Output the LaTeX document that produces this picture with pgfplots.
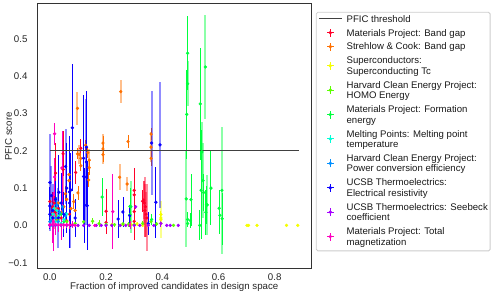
\documentclass[border=0pt]{standalone}
\usepackage{fontspec}
\setmainfont{Liberation Sans}
\usepackage{pgfplots}
\pgfplotsset{compat=1.18}
\definecolor{c1}{rgb}{1,0,0.16}
\definecolor{c2}{rgb}{1,0.44,0}
\definecolor{c3}{rgb}{0.96,1,0}
\definecolor{c4}{rgb}{0.36,1,0}
\definecolor{c5}{rgb}{0,1,0.24}
\definecolor{c6}{rgb}{0,1,0.84}
\definecolor{c7}{rgb}{0,0.56,1}
\definecolor{c8}{rgb}{0.04,0,1}
\definecolor{c9}{rgb}{0.65,0,1}
\definecolor{c10}{rgb}{1,0,0.75}
\newcommand{\LF}{\fontsize{9.6}{10.5}\selectfont}
\newcommand{\LA}[1]{\LF\hspace*{4.5pt}\rule[-3.15pt]{0pt}{13.9pt}#1}
\newcommand{\LC}[1]{\LF\hspace*{4.5pt}\rule[-3.15pt]{0pt}{10.5pt}#1}
\pgfplotsset{
 eb/.style 2 args={only marks, mark=*, mark size=1.45pt, color=#1, mark options={draw=#1, fill=#1},
   /pgfplots/legend image code/.code={\path (0pt,0pt) (22.7pt,0pt); \draw[overlay, draw=#1, line width=0.9pt] (11.3pt,#2-4pt)--(11.3pt,#2+4pt) (8pt,#2)--(14.6pt,#2); \fill[overlay, #1] (11.3pt,#2) circle (1.3pt);},
   error bars/.cd, y dir=both, y explicit, error mark=none, error bar style={line width=0.9pt, color=#1}},
 ef/.style={only marks, mark=*, mark size=1.45pt, color=#1, mark options={draw=#1, fill=#1}, forget plot,
   error bars/.cd, y dir=both, y explicit, error mark=none, error bar style={line width=2pt, color=#1, opacity=0.45}},
 threshleg/.style={legend image code/.code={\path (0pt,0pt) (22.7pt,0pt); \draw[overlay, black!75, line width=1.1pt] (0pt,1.3pt)--(22.7pt,1.3pt);}},
}
\begin{document}
\begin{tikzpicture}
\begin{axis}[scale only axis, width=273.5pt, height=265pt,
  xmin=-0.044, xmax=0.929, ymin=-0.117, ymax=0.594,
  xtick={0,0.2,0.4,0.6,0.8}, xticklabels={0.0,0.2,0.4,0.6,0.8},
  ytick={-0.1,0,0.1,0.2,0.3,0.4,0.5}, yticklabels={−0.1,0.0,0.1,0.2,0.3,0.4,0.5},
  major tick length=0,
  axis line style={black!80, line width=1pt},
  tick label style={font=\fontsize{9.7}{10.5}\selectfont, text=black!85},
  yticklabel style={xshift=-6.5pt},
  xticklabel style={yshift=-1.5pt},
  label style={font=\fontsize{9.7}{10.5}\selectfont, text=black!85},
  xlabel={Fraction of improved candidates in design space},
  ylabel={PFIC score},
  xlabel style={at={(axis description cs:0.5,-0.069)}, anchor=center},
  ylabel style={at={(axis description cs:-0.106,0.5)}, anchor=center},
  legend style={at={(axis description cs:1.018,0.97)}, anchor=north west, draw=black!20, rounded corners=1.5pt, line width=0.8pt, fill=white,
    inner xsep=2.3pt, inner ysep=2.5pt, row sep=0pt, column sep=0pt,
    font=\LF, text=black!90,
    cells={anchor=west, inner xsep=0pt, inner ysep=0pt, text depth=3.15pt},
    nodes={inner sep=0pt, text depth=3.15pt}},
]
\coordinate (BL) at (rel axis cs:0,0);
\coordinate (TR) at (rel axis cs:1,1);
\addlegendimage{threshleg}
\addlegendentry{\LC{PFIC threshold}}
% 1 Materials Project: Band gap
\addplot[ef=c1] table[y error index=2, row sep=\\] {x y e\\
0.336 0.060 0.060\\ 0.340 0.050 0.080\\ 0.338 0.040 0.070\\ 0.342 0.030 0.060\\ 0.345 0.020 0.090\\ 0.334 0.068 0.050\\ 0.015 0.040 0.050\\ 0.047 0.150 0.080\\};
\addplot[eb={c1}{-0.4pt}] table[y error index=2, row sep=\\] {x y e\\
0.047 0.192 0.060\\ 0.020 0.140 0.080\\ 0.092 0.142 0.030\\ 0.110 0.207 0.025\\ 0.000 0.064 0.030\\ 0.010 0.050 0.040\\ 0.020 0.035 0.030\\ 0.030 0.045 0.020\\ 0.040 0.020 0.030\\ 0.005 0.030 0.020\\ 0.060 0.012 0.020\\ 0.200 0.038 0.060\\ 0.200 0.008 0.030\\ 0.300 0.094 0.060\\ 0.300 0.082 0.050\\ 0.300 0.037 0.060\\ 0.300 0.011 0.050\\ 0.330 0.065 0.030\\ 0.015 0.060 0.030\\ 0.070 0.030 0.020\\};
\addlegendentry{\LA{Materials Project: Band gap}}
% 2 Strehlow & Cook
\addplot[ef=c2] table[y error index=2, row sep=\\] {x y e\\
0.098 0.314 0.045\\ 0.252 0.359 0.030\\ 0.189 0.205 0.040\\ 0.248 0.129 0.035\\ 0.275 0.111 0.020\\ 0.140 0.175 0.030\\ 0.360 0.210 0.040\\ 0.105 0.190 0.025\\};
\addplot[eb={c2}{-0.4pt}] table[y error index=2, row sep=\\] {x y e\\
0.189 0.221 0.020\\ 0.189 0.190 0.020\\ 0.278 0.225 0.018\\ 0.360 0.245 0.015\\ 0.360 0.180 0.020\\ 0.127 0.215 0.015\\ 0.098 0.192 0.015\\ 0.135 0.195 0.015\\ 0.140 0.155 0.020\\ 0.110 0.180 0.015\\ 0.110 0.160 0.015\\ 0.100 0.087 0.020\\ 0.085 0.064 0.020\\ 0.068 0.136 0.025\\ 0.068 0.120 0.020\\ 0.138 0.122 0.020\\ 0.060 0.070 0.015\\ 0.050 0.050 0.020\\ 0.040 0.035 0.015\\ 0.030 0.060 0.020\\ 0.020 0.045 0.020\\ 0.010 0.030 0.015\\ 0.075 0.045 0.015\\ 0.090 0.040 0.015\\ 0.055 0.085 0.020\\ 0.025 0.020 0.010\\};
\addlegendentry{\LA{Strehlow \& Cook: Band gap}}
% 3 Superconductors
\addplot[ef=c3] table[y error index=2, row sep=\\] {x y e\\ 0.395 0.015 0.050\\};
\addplot[eb={c3}{-5.65pt}] table[y error index=2, row sep=\\] {x y e\\
0.701 0.000 0.002\\ 0.707 0.000 0.002\\ 0.737 0.000 0.002\\ 0.842 0.000 0.002\\ 0.882 0.000 0.002\\ 0.395 0.029 0.010\\ 0.395 0.020 0.010\\ 0.395 0.006 0.010\\ 0.290 0.002 0.004\\ 0.310 0.004 0.006\\ 0.330 0.000 0.003\\ 0.350 0.001 0.003\\ 0.260 0.003 0.004\\ 0.220 0.002 0.003\\};
\addlegendentry{\LA{Superconductors:}}
\addlegendimage{empty legend}\addlegendentry{\LC{Superconducting Tc}}
% 4 HOMO
\addplot[eb={c4}{-5.65pt}] table[y error index=2, row sep=\\] {x y e\\
0.152 0.011 0.008\\ 0.175 0.005 0.010\\ 0.200 0.003 0.005\\ 0.230 0.002 0.005\\ 0.260 0.004 0.005\\ 0.280 0.003 0.006\\ 0.300 0.002 0.004\\ 0.330 0.005 0.008\\ 0.360 0.010 0.010\\ 0.380 0.004 0.005\\ 0.060 0.010 0.010\\ 0.090 0.005 0.008\\ 0.120 0.010 0.010\\ 0.250 0.000 0.004\\ 0.440 0.000 0.003\\ 0.030 0.015 0.010\\};
\addlegendentry{\LA{Harvard Clean Energy Project:}}
\addlegendimage{empty legend}\addlegendentry{\LC{HOMO Energy}}
% 5 Formation energy
\addplot[ef=c5] table[y error index=2, row sep=\\] {x y e\\
0.553 0.425 0.140\\ 0.485 0.071 0.130\\ 0.540 0.198 0.080\\ 0.612 0.094 0.170\\ 0.545 0.120 0.100\\ 0.288 0.050 0.070\\ 0.560 0.055 0.080\\ 0.490 0.380 0.060\\};
\addplot[eb={c5}{-5.65pt}] table[y error index=2, row sep=\\] {x y e\\
0.490 0.462 0.100\\ 0.487 0.298 0.120\\ 0.535 0.326 0.150\\ 0.538 0.094 0.130\\ 0.547 0.088 0.050\\ 0.533 0.000 0.040\\ 0.490 0.016 0.020\\ 0.500 0.013 0.020\\ 0.490 0.005 0.010\\ 0.502 0.069 0.070\\ 0.573 0.100 0.100\\ 0.557 0.055 0.050\\ 0.555 0.035 0.060\\ 0.602 0.046 0.050\\ 0.605 0.027 0.050\\ 0.613 0.018 0.070\\ 0.186 0.076 0.050\\ 0.285 0.051 0.050\\ 0.285 0.029 0.040\\ 0.362 0.016 0.015\\ 0.020 0.020 0.020\\ 0.040 0.030 0.015\\ 0.050 0.010 0.010\\ 0.540 0.196 0.060\\};
\addlegendentry{\LA{Materials Project: Formation}}
\addlegendimage{empty legend}\addlegendentry{\LC{energy}}
% 6 Melting points
\addplot[eb={c6}{-5.65pt}] table[y error index=2, row sep=\\] {x y e\\
0.005 0.020 0.010\\ 0.010 0.030 0.015\\ 0.020 0.010 0.010\\ 0.030 0.025 0.010\\ 0.040 0.005 0.010\\ 0.015 0.045 0.020\\ 0.050 0.015 0.010\\ 0.008 0.000 0.005\\ 0.060 0.030 0.015\\ 0.025 0.040 0.010\\};
\addlegendentry{\LA{Melting Points: Melting point}}
\addlegendimage{empty legend}\addlegendentry{\LC{temperature}}
% 7 PCE
\addplot[eb={c7}{-5.65pt}] table[y error index=2, row sep=\\] {x y e\\
0.010 0.040 0.020\\ 0.020 0.020 0.015\\ 0.025 0.055 0.020\\ 0.035 0.035 0.015\\ 0.045 0.050 0.020\\ 0.030 0.010 0.010\\ 0.000 0.010 0.010\\ 0.055 0.025 0.010\\};
\addlegendentry{\LA{Harvard Clean Energy Project:}}
\addlegendimage{empty legend}\addlegendentry{\LC{Power conversion efficiency}}
% 8 Electrical resistivity
\addplot[ef=c8] table[y error index=2, row sep=\\] {x y e\\
0.000 0.115 0.130\\ 0.362 0.221 0.140\\ 0.392 0.216 0.170\\ 0.056 0.158 0.100\\ 0.130 0.170 0.170\\ 0.010 0.040 0.070\\ 0.030 0.020 0.080\\ 0.070 0.060 0.120\\ 0.005 0.080 0.080\\};
\addplot[eb={c8}{-5.65pt}] table[y error index=2, row sep=\\] {x y e\\
0.080 0.262 0.170\\ 0.120 0.180 0.170\\ 0.120 0.131 0.120\\ 0.124 0.054 0.100\\ 0.130 0.130 0.080\\ 0.133 0.053 0.120\\ 0.032 0.089 0.100\\ 0.000 0.052 0.050\\ 0.000 0.030 0.040\\ 0.010 0.020 0.030\\ 0.040 0.060 0.080\\ 0.060 0.100 0.120\\ 0.070 0.090 0.150\\ 0.075 0.095 0.100\\ 0.050 0.030 0.060\\ 0.090 0.020 0.050\\ 0.243 0.017 0.050\\ 0.260 0.036 0.040\\ 0.284 0.026 0.030\\ 0.350 0.005 0.030\\ 0.377 0.062 0.095\\ 0.020 0.070 0.050\\ 0.130 0.210 0.150\\};
\addlegendentry{\LA{UCSB Thermoelectrics:}}
\addlegendimage{empty legend}\addlegendentry{\LC{Electrical resistivity}}
% 9 Seebeck
\addplot[eb={c9}{-5.65pt}] table[y error index=2, row sep=\\] {x y e\\
0.000 0.000 0.003\\ 0.010 0.000 0.003\\ 0.020 0.000 0.003\\ 0.040 0.000 0.003\\ 0.060 0.000 0.003\\ 0.080 0.000 0.003\\ 0.100 0.000 0.003\\ 0.120 0.000 0.003\\ 0.140 0.000 0.003\\ 0.165 0.000 0.003\\ 0.183 0.000 0.003\\ 0.200 0.000 0.003\\ 0.220 0.000 0.003\\ 0.250 0.000 0.003\\ 0.270 0.000 0.003\\ 0.300 0.000 0.003\\ 0.320 0.000 0.003\\ 0.350 0.000 0.003\\ 0.370 0.000 0.003\\ 0.395 0.005 0.010\\ 0.416 0.000 0.003\\ 0.428 0.000 0.003\\ 0.457 0.000 0.003\\ 0.305 0.050 0.006\\};
\addlegendentry{\LA{UCSB Thermoelectrics: Seebeck}}
\addlegendimage{empty legend}\addlegendentry{\LC{coefficient}}
% 10 Total magnetization
\addplot[eb={c10}{-5.65pt}] table[y error index=2, row sep=\\] {x y e\\
0.017 0.246 0.030\\ 0.043 0.154 0.100\\ 0.224 0.037 0.100\\ 0.000 0.002 0.010\\ 0.010 0.002 0.050\\ 0.020 0.003 0.030\\ 0.030 0.001 0.020\\ 0.040 0.002 0.040\\ 0.050 0.001 0.010\\ 0.060 0.002 0.010\\ 0.070 0.001 0.010\\ 0.080 0.002 0.010\\ 0.090 0.000 0.005\\ 0.285 0.001 0.010\\ 0.160 0.000 0.005\\ 0.017 0.130 0.050\\ 0.013 0.010 0.080\\};
\addlegendentry{\LA{Materials Project: Total}}
\addlegendimage{empty legend}\addlegendentry{\LC{magnetization}}
% threshold
\addplot[black!75, line width=1.1pt, forget plot] coordinates {(0,0.2) (0.888,0.2)};
\end{axis}
\pgfresetboundingbox
\path[use as bounding box] ([xshift=-37.5pt,yshift=-29pt]BL) rectangle ([xshift=187pt,yshift=4pt]TR);
\end{tikzpicture}
\end{document}
